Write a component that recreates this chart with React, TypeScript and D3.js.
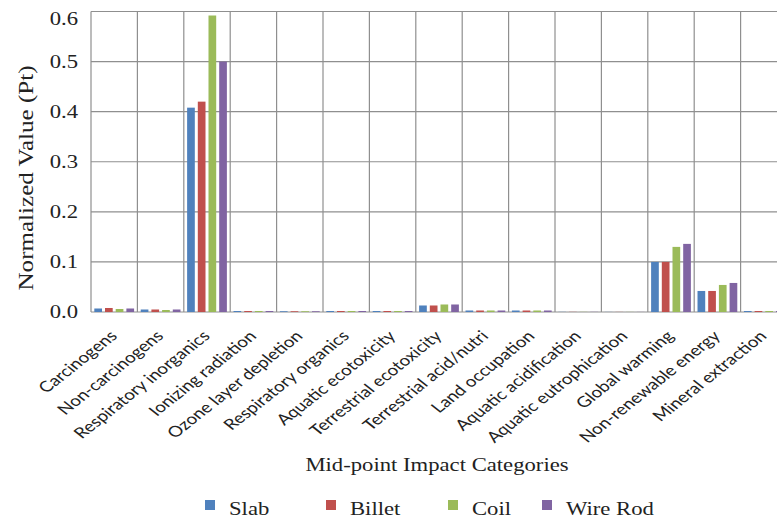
import React from "react";
import * as d3 from "d3";

const categories = [
  "Carcinogens",
  "Non-carcinogens",
  "Respiratory inorganics",
  "Ionizing radiation",
  "Ozone layer depletion",
  "Respiratory organics",
  "Aquatic ecotoxicity",
  "Terrestrial ecotoxicity",
  "Terrestrial acid/nutri",
  "Land occupation",
  "Aquatic acidification",
  "Aquatic eutrophication",
  "Global warming",
  "Non-renewable energy",
  "Mineral extraction",
];

const seriesNames = ["Slab", "Billet", "Coil", "Wire Rod"];
const seriesColors = ["#4F81BD", "#C0504D", "#9BBB59", "#8064A2"];

const slab = [0.007, 0.005, 0.408, 0.002, 0.0015, 0.002, 0.002, 0.013, 0.003, 0.003, 0.0003, 0.0002, 0.1, 0.042, 0.002];
const billet = [0.008, 0.005, 0.42, 0.002, 0.0015, 0.002, 0.002, 0.013, 0.003, 0.003, 0.0003, 0.0002, 0.1, 0.042, 0.002];
const coil = [0.006, 0.004, 0.592, 0.002, 0.0015, 0.002, 0.002, 0.015, 0.003, 0.003, 0.0003, 0.0002, 0.13, 0.054, 0.002];
const wireRod = [0.007, 0.005, 0.5, 0.002, 0.0015, 0.002, 0.002, 0.015, 0.003, 0.003, 0.0003, 0.0002, 0.136, 0.058, 0.002];

const yTicks = [0, 0.1, 0.2, 0.3, 0.4, 0.5, 0.6];
const yTitle = "Normalized Value (Pt)";
const xTitle = "Mid-point Impact Categories";

const SX = 1.26;
const W = 777;
const H = 520;

export default function App() {
  const seriesValues = [slab, billet, coil, wireRod];
  const left = 91;
  const step = 46.4;
  const x0 = d3
    .scaleBand<string>()
    .domain(categories)
    .range([left, left + step * categories.length])
    .padding(0);
  const x1 = d3
    .scaleBand<string>()
    .domain(seriesNames)
    .range([0, x0.bandwidth()])
    .paddingInner(0.28)
    .paddingOuter(0.31);
  const y = d3.scaleLinear().domain([0, 0.6]).range([312, 11.5]);

  const serif = "Liberation Serif, DejaVu Serif, serif";
  const sans = "Lato, Open Sans, sans-serif";
  const grid = "#8f8f8f";

  const bounds = categories.map((c) => x0(c) as number).concat([left + step * categories.length]);

  return (
    <svg
      width={W}
      height={H}
      style={{ position: "absolute", left: 0, top: 0, background: "#fff" }}
    >
      <rect x={0} y={0} width={W} height={H} fill="#fff" />
      {yTicks.map((t) => (
        <line
          key={"h" + t}
          x1={left}
          x2={bounds[bounds.length - 1]}
          y1={y(t)}
          y2={y(t)}
          stroke={grid}
          strokeWidth={1.2}
        />
      ))}
      {bounds.map((b, i) => (
        <line key={"v" + i} x1={b} x2={b} y1={y(0.6)} y2={y(0)} stroke={grid} strokeWidth={1.2} />
      ))}
      {categories.map((c, ci) => (
        <g key={c} transform={`translate(${x0(c)},0)`}>
          {seriesNames.map((s, si) => {
            const v = seriesValues[si][ci];
            const yy = y(v);
            return (
              <rect
                key={s}
                x={x1(s)}
                y={yy}
                width={x1.bandwidth()}
                height={Math.max(0, y(0) - yy)}
                fill={seriesColors[si]}
              />
            );
          })}
        </g>
      ))}
      {yTicks.map((t) => (
        <text
          key={"yt" + t}
          transform={`translate(78,${Math.max(y(t), 19)}) scale(${SX},1)`}
          textAnchor="end"
          dy="0.35em"
          style={{ fontFamily: serif, fontSize: 18 }}
          fill="#222"
        >
          {d3.format(".1f")(t)}
        </text>
      ))}
      <text
        transform={`translate(25,178) scale(${SX},1) rotate(-90)`}
        textAnchor="middle"
        dy="0.35em"
        style={{ fontFamily: serif, fontSize: 17 }}
        fill="#222"
        textLength={225}
        lengthAdjust="spacingAndGlyphs"
      >
        {yTitle}
      </text>
      {categories.map((c) => {
        const cx = (x0(c) as number) + x0.bandwidth() / 2;
        return (
          <text
            key={"xl" + c}
            transform={`translate(${cx + 4},337) scale(${SX},1) rotate(-45)`}
            textAnchor="end"
            style={{ fontFamily: sans, fontSize: 15 }}
            fill="#222"
          >
            {c}
          </text>
        );
      })}
      <text
        transform={`translate(437,471) scale(${SX},1)`}
        textAnchor="middle"
        style={{ fontFamily: serif, fontSize: 18 }}
        fill="#222"
      >
        {xTitle}
      </text>
      {seriesNames.map((s, i) => {
        const lx = [205, 326, 448, 542][i];
        return (
          <g key={"lg" + s}>
            <rect x={lx} y={500} width={10} height={10} fill={seriesColors[i]} />
            <text
              transform={`translate(${lx + 24},515) scale(${SX},1)`}
              style={{ fontFamily: serif, fontSize: 18 }}
              fill="#222"
            >
              {s}
            </text>
          </g>
        );
      })}
    </svg>
  );
}
